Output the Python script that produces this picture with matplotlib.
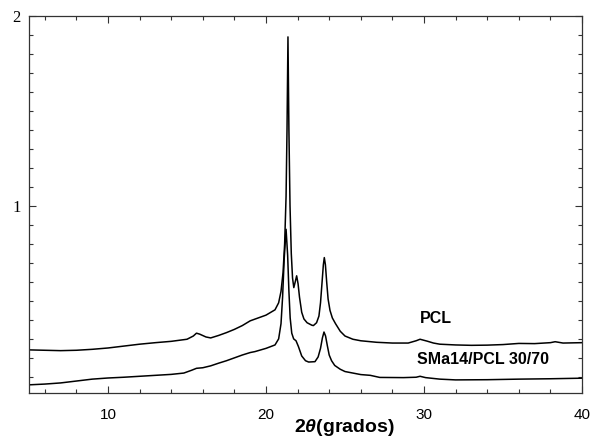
import matplotlib.pyplot as plt
import numpy as np
from matplotlib.ticker import MultipleLocator, FixedLocator

plt.rcParams['mathtext.fontset'] = 'custom'
plt.rcParams['mathtext.it'] = 'Liberation Sans:italic:bold'
plt.rcParams['mathtext.rm'] = 'Liberation Sans:bold'

# PCL (upper curve)
x_pcl = [5.0, 6.0, 7.0, 8.0, 9.0, 10.0, 11.0, 12.0, 13.0, 14.0, 15.0, 15.4, 15.6,
         15.8, 16.2, 16.5, 17.0, 17.5, 18.0, 18.5, 19.0, 19.5, 20.0, 20.57, 20.8,
         20.95, 21.08, 21.18, 21.27, 21.33, 21.39, 21.45, 21.52, 21.6, 21.68,
         21.76, 21.85, 21.94, 22.03, 22.12, 22.26, 22.4, 22.6, 22.9, 23.0, 23.2,
         23.35, 23.45, 23.55, 23.63, 23.69, 23.76, 23.84, 23.93, 24.05, 24.2,
         24.4, 24.7, 25.0, 25.5, 26.0, 27.0, 28.0, 29.0, 29.5, 29.75, 30.2, 30.6,
         31.0, 32.0, 33.0, 34.0, 35.0, 36.0, 37.0, 38.0, 38.3, 38.8, 40.0]
y_pcl = [0.242, 0.240, 0.238, 0.240, 0.245, 0.252, 0.262, 0.272, 0.280, 0.287,
         0.298, 0.315, 0.330, 0.325, 0.310, 0.305, 0.318, 0.333, 0.350, 0.370,
         0.395, 0.410, 0.425, 0.453, 0.490, 0.550, 0.650, 0.800, 1.05, 1.40,
         1.89, 1.40, 1.00, 0.75, 0.62, 0.57, 0.60, 0.632, 0.59, 0.52, 0.44,
         0.405, 0.385, 0.372, 0.370, 0.385, 0.420, 0.490, 0.600, 0.690, 0.728,
         0.690, 0.600, 0.510, 0.450, 0.410, 0.380, 0.340, 0.315, 0.298, 0.290,
         0.282, 0.278, 0.278, 0.290, 0.298, 0.288, 0.278, 0.272, 0.268, 0.266,
         0.267, 0.270, 0.276, 0.275, 0.280, 0.285, 0.278, 0.280]

# SMa14/PCL 30/70 (lower curve)
x_blend = [5.0, 6.0, 7.0, 8.0, 9.0, 10.0, 11.0, 12.0, 13.0, 14.0, 14.8, 15.3,
           15.6, 16.0, 16.5, 17.0, 17.5, 18.0, 18.5, 19.0, 19.3, 20.0, 20.57,
           20.8, 20.95, 21.05, 21.15, 21.27, 21.37, 21.45, 21.53, 21.63, 21.75,
           21.9, 22.05, 22.26, 22.5, 22.7, 23.1, 23.3, 23.45, 23.57, 23.67, 23.77,
           23.88, 24.0, 24.15, 24.35, 24.7, 25.0, 26.0, 26.6, 27.2, 28.7, 29.5,
           29.75, 30.1, 31.0, 32.0, 34.0, 36.0, 38.0, 40.0]
y_blend = [0.058, 0.062, 0.068, 0.078, 0.088, 0.094, 0.098, 0.103, 0.108, 0.113,
           0.120, 0.135, 0.145, 0.148, 0.158, 0.172, 0.185, 0.200, 0.215, 0.228,
           0.233, 0.250, 0.268, 0.300, 0.380, 0.520, 0.720, 0.877, 0.740, 0.550,
           0.410, 0.330, 0.300, 0.290, 0.260, 0.210, 0.185, 0.178, 0.180, 0.205,
           0.250, 0.305, 0.336, 0.315, 0.265, 0.215, 0.185, 0.160, 0.140, 0.128,
           0.112, 0.108, 0.097, 0.096, 0.098, 0.103, 0.096, 0.088, 0.084, 0.085,
           0.088, 0.090, 0.093]

fig = plt.figure(figsize=(5.93, 4.40), dpi=100)
ax = fig.add_axes([29/593, 47/440, 553/593, 377/440])

ax.plot(x_pcl, y_pcl, color='black', lw=1.1)
ax.plot(x_blend, y_blend, color='black', lw=1.1)

ax.set_xlim(5, 40)
ax.set_ylim(0.015, 2.0)

ax.xaxis.set_major_locator(FixedLocator([10, 20, 30, 40]))
ax.xaxis.set_minor_locator(MultipleLocator(2))
ax.yaxis.set_major_locator(FixedLocator([1, 2]))
ax.yaxis.set_minor_locator(MultipleLocator(0.1))
ax.tick_params(which='both', direction='in', top=True, right=True, color='#333333')
ax.tick_params(which='major', length=5, width=0.8)
ax.tick_params(which='minor', length=3, width=0.8)
ax.tick_params(axis='x', pad=11, labelsize=11)
ax.tick_params(axis='y', pad=6)
for lab in ax.get_xticklabels():
    lab.set_family('Liberation Sans')
ax.set_yticklabels(['1', '2'], family='Liberation Serif', fontsize=12)
for sp in ax.spines.values():
    sp.set_linewidth(0.9)
    sp.set_color('#333333')

ax.text(30.76, 0.405, 'PCL', ha='center', va='center', fontsize=11.5,
        fontweight='bold', family='Liberation Sans')
ax.text(33.75, 0.19, 'SMa14/PCL 30/70', ha='center', va='center', fontsize=11.5,
        fontweight='bold', family='Liberation Sans')

fig.text(344/593, 1 - 427/440, r'2$\mathit{\theta}$(grados)', ha='center', va='center',
         fontsize=14, fontweight='bold', family='Liberation Sans')

fig.savefig('out.png', dpi=100)
